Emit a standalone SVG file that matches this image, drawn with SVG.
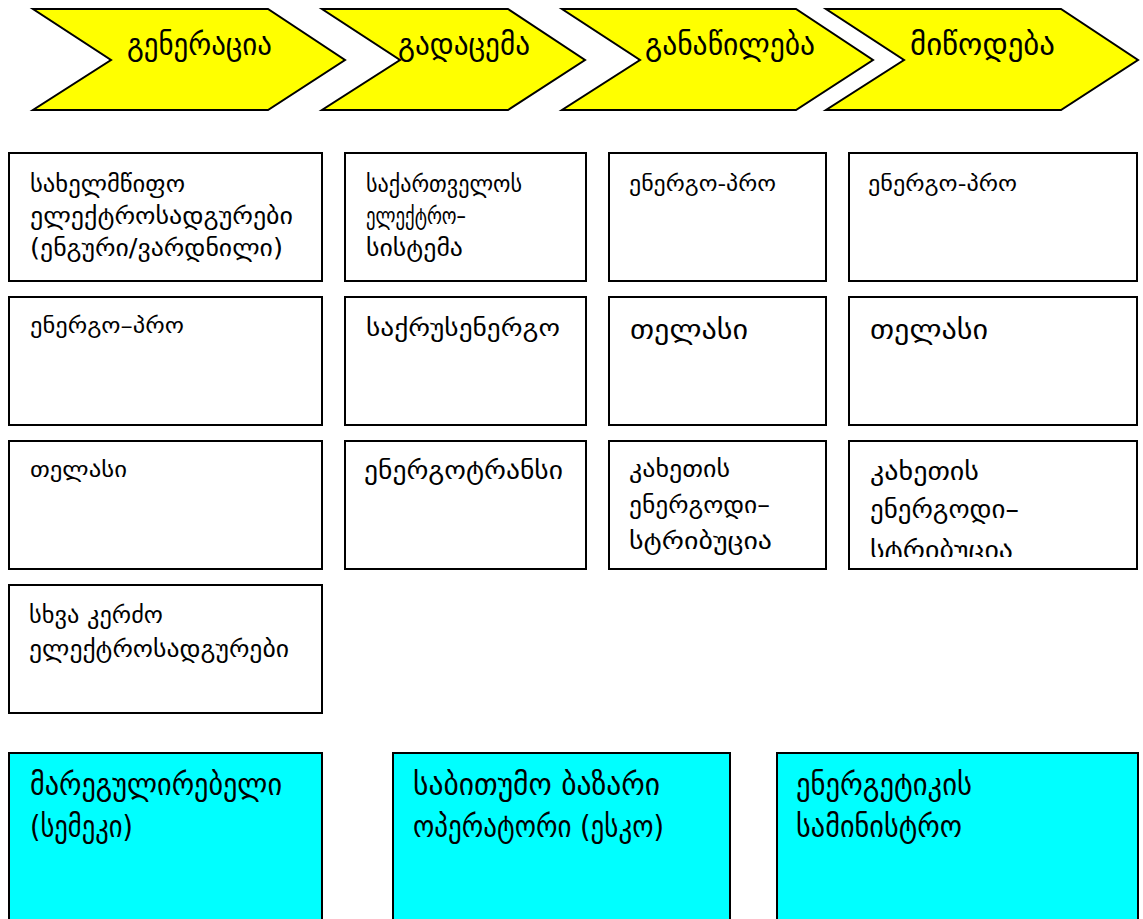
<svg xmlns="http://www.w3.org/2000/svg" width="1143" height="919" viewBox="0 0 1143 919">
<style>
.chev{fill:#ffff00;stroke:#000;stroke-width:2;stroke-linejoin:miter}
.box{fill:#fff;stroke:#000;stroke-width:2}
.cyan{fill:#00ffff;stroke:#000;stroke-width:2}
text{font-family:"DejaVu Sans",sans-serif;fill:#000}
.h{font-size:30px}
.t20{font-size:22px}
.t22{font-size:24px}
.t24{font-size:26px}
.t26{font-size:28px}
.tc{font-size:30px}
</style>
<defs>
<clipPath id="clip44"><rect x="850" y="442" width="287" height="115"/></clipPath>
</defs>
<g id="connectors"></g>
<g id="chevron-generation">
<path class="chev" d="M33,9 L268,9 L345,60 L268,110 L33,110 L111,60 Z"/>
<text class="h" x="127" y="55" textLength="145" lengthAdjust="spacingAndGlyphs">გენერაცია</text>
</g>
<g id="chevron-transmission">
<path class="chev" d="M322,9 L508,9 L585,60 L508,110 L322,110 L400,60 Z"/>
<text class="h" x="398" y="55" textLength="132" lengthAdjust="spacingAndGlyphs">გადაცემა</text>
</g>
<g id="chevron-distribution">
<path class="chev" d="M562,9 L796,9 L873,60 L796,110 L562,110 L640,60 Z"/>
<text class="h" x="645" y="55" textLength="170" lengthAdjust="spacingAndGlyphs">განაწილება</text>
</g>
<g id="chevron-supply">
<path class="chev" d="M826,9 L1061,9 L1138,60 L1061,110 L826,110 L904,60 Z"/>
<text class="h" x="910" y="55" textLength="145" lengthAdjust="spacingAndGlyphs">მიწოდება</text>
</g>

<g id="r1c1">
<rect class="box" x="9" y="153" width="313" height="128"/>
<text class="t22" x="30" y="192" textLength="155" lengthAdjust="spacingAndGlyphs">სახელმწიფო</text>
<text class="t22" x="30" y="224" textLength="263" lengthAdjust="spacingAndGlyphs">ელექტროსადგურები</text>
<text class="t22" x="30" y="256" textLength="253" lengthAdjust="spacingAndGlyphs">(ენგური/ვარდნილი)</text>
</g>
<g id="r1c2">
<rect class="box" x="345" y="153" width="241" height="128"/>
<text class="t22" x="366" y="192" textLength="156" lengthAdjust="spacingAndGlyphs">საქართველოს</text>
<text class="t22" x="366" y="224" textLength="100" lengthAdjust="spacingAndGlyphs">ელექტრო–</text>
<text class="t22" x="366" y="256" textLength="97" lengthAdjust="spacingAndGlyphs">სისტემა</text>
</g>
<g id="r1c3">
<rect class="box" x="609" y="153" width="217" height="128"/>
<text class="t20" x="629" y="191" textLength="147" lengthAdjust="spacingAndGlyphs">ენერგო-პრო</text>
</g>
<g id="r1c4">
<rect class="box" x="849" y="153" width="288" height="128"/>
<text class="t20" x="868" y="191" textLength="149" lengthAdjust="spacingAndGlyphs">ენერგო-პრო</text>
</g>

<g id="r2c1">
<rect class="box" x="9" y="297" width="313" height="128"/>
<text class="t20" x="30" y="333" textLength="154" lengthAdjust="spacingAndGlyphs">ენერგო–პრო</text>
</g>
<g id="r2c2">
<rect class="box" x="345" y="297" width="241" height="128"/>
<text class="t22" x="366" y="336" textLength="194" lengthAdjust="spacingAndGlyphs">საქრუსენერგო</text>
</g>
<g id="r2c3">
<rect class="box" x="609" y="297" width="217" height="128"/>
<text class="t26" x="630" y="339" textLength="118" lengthAdjust="spacingAndGlyphs">თელასი</text>
</g>
<g id="r2c4">
<rect class="box" x="849" y="297" width="288" height="128"/>
<text class="t26" x="870" y="339" textLength="118" lengthAdjust="spacingAndGlyphs">თელასი</text>
</g>

<g id="r3c1">
<rect class="box" x="9" y="441" width="313" height="128"/>
<text class="t20" x="30" y="477" textLength="97" lengthAdjust="spacingAndGlyphs">თელასი</text>
</g>
<g id="r3c2">
<rect class="box" x="345" y="441" width="241" height="128"/>
<text class="t24" x="364" y="479" textLength="199" lengthAdjust="spacingAndGlyphs">ენერგოტრანსი</text>
</g>
<g id="r3c3">
<rect class="box" x="609" y="441" width="217" height="128"/>
<text class="t22" x="629" y="477" textLength="101" lengthAdjust="spacingAndGlyphs">კახეთის</text>
<text class="t22" x="629" y="513" textLength="141" lengthAdjust="spacingAndGlyphs">ენერგოდი–</text>
<text class="t22" x="629" y="549" textLength="143" lengthAdjust="spacingAndGlyphs">სტრიბუცია</text>
</g>
<g id="r3c4">
<rect class="box" x="849" y="441" width="288" height="128"/>
<text class="t24" x="870" y="480" textLength="109" lengthAdjust="spacingAndGlyphs">კახეთის</text>
<text class="t24" x="870" y="518" textLength="149" lengthAdjust="spacingAndGlyphs">ენერგოდი–</text>
<text class="t24" x="870" y="559" textLength="143" lengthAdjust="spacingAndGlyphs" clip-path="url(#clip44)">სტრიბუცია</text>
</g>

<g id="r4c1">
<rect class="box" x="9" y="585" width="313" height="128"/>
<text class="t22" x="29" y="623" textLength="134" lengthAdjust="spacingAndGlyphs">სხვა კერძო</text>
<text class="t22" x="29" y="657" textLength="260" lengthAdjust="spacingAndGlyphs">ელექტროსადგურები</text>
</g>

<g id="regulator">
<rect class="cyan" x="9" y="753" width="313" height="180"/>
<text class="tc" x="30" y="795" textLength="252" lengthAdjust="spacingAndGlyphs">მარეგულირებელი</text>
<text class="tc" x="30" y="837" textLength="103" lengthAdjust="spacingAndGlyphs">(სემეკი)</text>
</g>
<g id="esco">
<rect class="cyan" x="393" y="753" width="337" height="180"/>
<text class="tc" x="413" y="795" textLength="247" lengthAdjust="spacingAndGlyphs">საბითუმო ბაზარი</text>
<text class="tc" x="413" y="837" textLength="251" lengthAdjust="spacingAndGlyphs">ოპერატორი (ესკო)</text>
</g>
<g id="ministry">
<rect class="cyan" x="777" y="753" width="361" height="180"/>
<text class="tc" x="796" y="795" textLength="176" lengthAdjust="spacingAndGlyphs">ენერგეტიკის</text>
<text class="tc" x="796" y="837" textLength="166" lengthAdjust="spacingAndGlyphs">სამინისტრო</text>
</g>
</svg>
